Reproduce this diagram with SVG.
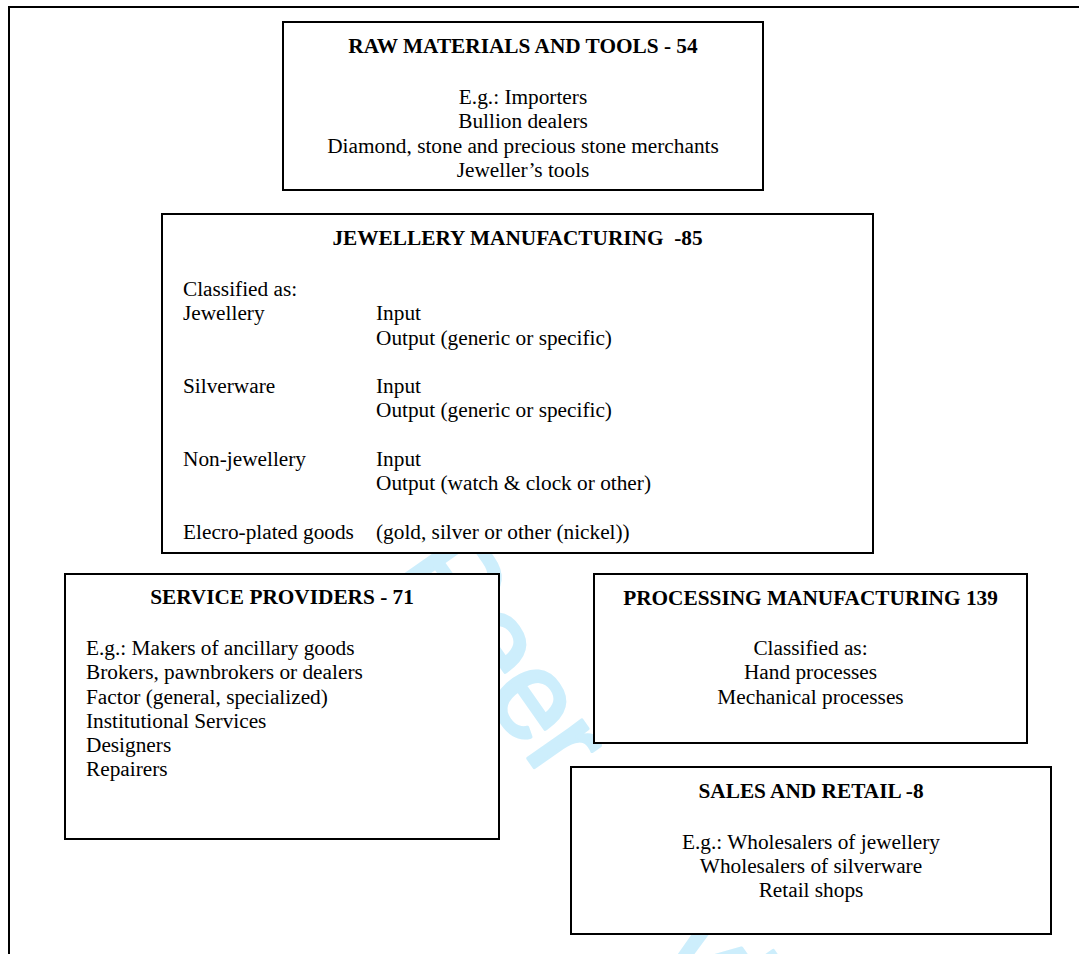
<svg xmlns="http://www.w3.org/2000/svg" width="1079" height="954" viewBox="0 0 1079 954">
<style>
.box{fill:#ffffff;stroke:#000000;stroke-width:2}
.t{font-family:"Liberation Serif","Times New Roman",serif;font-size:21.3px;fill:#000000}
.b{font-weight:bold}
.c{text-anchor:middle}
.frame{stroke:#000000;stroke-width:2;fill:none}
.wm{font-family:"Liberation Sans",Arial,sans-serif;font-size:125px;fill:#cdeefc;stroke:#cdeefc;stroke-width:3.5;stroke-linejoin:round}
</style>
<rect x="0" y="0" width="1079" height="954" fill="#ffffff"/>
<text class="wm" transform="translate(268,387) rotate(55)">For Peer Review</text>
<path class="frame" d="M9,954 L9,7 L1079,7"/>
<g id="connectors"></g>
<g id="raw-materials">
<rect class="box" x="283" y="22" width="480" height="168"/>
<text class="t b c" x="523" y="53">RAW MATERIALS AND TOOLS - 54</text>
<text class="t c" x="523" y="104">E.g.: Importers</text>
<text class="t c" x="523" y="128.25">Bullion dealers</text>
<text class="t c" x="523" y="152.5">Diamond, stone and precious stone merchants</text>
<text class="t c" x="523" y="176.75">Jeweller’s tools</text>
</g>
<g id="jewellery-manufacturing">
<rect class="box" x="162" y="214" width="711" height="339"/>
<text class="t b c" x="517.5" y="245" style="white-space:pre">JEWELLERY MANUFACTURING  -85</text>
<text class="t" x="183" y="296">Classified as:</text>
<text class="t" x="183" y="320.25">Jewellery</text>
<text class="t" x="376" y="320.25">Input</text>
<text class="t" x="376" y="344.5">Output (generic or specific)</text>
<text class="t" x="183" y="393">Silverware</text>
<text class="t" x="376" y="393">Input</text>
<text class="t" x="376" y="417.25">Output (generic or specific)</text>
<text class="t" x="183" y="465.75">Non-jewellery</text>
<text class="t" x="376" y="465.75">Input</text>
<text class="t" x="376" y="490">Output (watch &amp; clock or other)</text>
<text class="t" x="183" y="538.5">Elecro-plated goods</text>
<text class="t" x="376" y="538.5">(gold, silver or other (nickel))</text>
</g>
<g id="service-providers">
<rect class="box" x="65" y="574" width="434" height="265"/>
<text class="t b c" x="282" y="604">SERVICE PROVIDERS - 71</text>
<text class="t" x="86" y="655">E.g.: Makers of ancillary goods</text>
<text class="t" x="86" y="679.25">Brokers, pawnbrokers or dealers</text>
<text class="t" x="86" y="703.5">Factor (general, specialized)</text>
<text class="t" x="86" y="727.75">Institutional Services</text>
<text class="t" x="86" y="752">Designers</text>
<text class="t" x="86" y="776.25">Repairers</text>
</g>
<g id="processing-manufacturing">
<rect class="box" x="594" y="574" width="433" height="169"/>
<text class="t b c" x="810.5" y="605">PROCESSING MANUFACTURING 139</text>
<text class="t c" x="810.5" y="655">Classified as:</text>
<text class="t c" x="810.5" y="679.25">Hand processes</text>
<text class="t c" x="810.5" y="703.5">Mechanical processes</text>
</g>
<g id="sales-retail">
<rect class="box" x="571" y="767" width="480" height="167"/>
<text class="t b c" x="811" y="798">SALES AND RETAIL -8</text>
<text class="t c" x="811" y="848.5">E.g.: Wholesalers of jewellery</text>
<text class="t c" x="811" y="872.75">Wholesalers of silverware</text>
<text class="t c" x="811" y="897">Retail shops</text>
</g>
</svg>
